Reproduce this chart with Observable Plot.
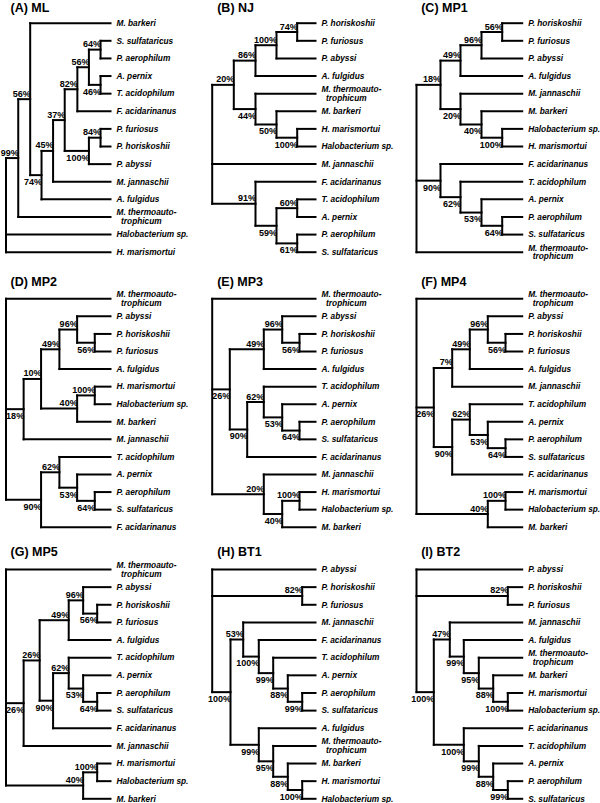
<!DOCTYPE html>
<html>
<head>
<meta charset="utf-8">
<script src="https://cdn.jsdelivr.net/npm/d3@7"></script>
<script src="https://cdn.jsdelivr.net/npm/@observablehq/plot@0.6"></script>
<style>
  html, body { margin: 0; padding: 0; background: #fff; }
  #wrap { position: relative; width: 600px; height: 803px; overflow: hidden; background: #fff; }
  #wrap svg { position: absolute; overflow: visible; }
</style>
</head>
<body>
<div id="wrap"></div>
<script>
// ---------------- DATA ----------------
// Panel titles (A..I), row-major order
const titles = ["(A) ML", "(B) NJ", "(C) MP1", "(D) MP2", "(E) MP3", "(F) MP4", "(G) MP5", "(H) BT1", "(I) BT2"];

// Trees: internal node = [depth, support label, label side ("a" above / "b" below), ...children]; leaf = taxon name
const MT = "M. thermoauto-\ntrophicum";

const treeA = [0, "", "",
  [12.3, "99%", "a",
    [24.3, "56%", "a",
      "M. barkeri",
      [35.7, "74%", "b",
        [47.3, "45%", "a",
          [59, "37%", "a",
            [71.7, "82%", "a",
              [83.3, "56%", "a",
                [95, "64%", "a", "S. sulfataricus", "P. aerophilum"],
                [95, "46%", "b", "A. pernix", "T. acidophilum"]],
              "F. acidarinanus"],
            [83.3, "100%", "b",
              [95, "84%", "a", "P. furiosus", "P. horiskoshii"],
              "P. abyssi"]],
          "M. jannaschii"],
        "A. fulgidus"]],
    MT],
  "Halobacterium sp.", "H. marismortui"];

const treeB = [0, "", "",
  [21.6, "20%", "a",
    [43.3, "86%", "a",
      [64.3, "100%", "a",
        [85, "74%", "a", "P. horiskoshii", "P. furiosus"],
        "P. abyssi"],
      "A. fulgidus"],
    [43.3, "44%", "b",
      MT,
      [64.3, "50%", "b",
        "M. barkeri",
        [85, "100%", "b", "H. marismortui", "Halobacterium sp."]]]],
  "M. jannaschii",
  [43.3, "91%", "a",
    "F. acidarinanus",
    [64.3, "59%", "b",
      [85, "60%", "a", "T. acidophilum", "A. pernix"],
      [85, "61%", "b", "P. aerophilum", "S. sulfataricus"]]]];

const treeC = [0, "", "",
  [24, "18%", "a",
    [44, "49%", "a",
      [65, "96%", "a",
        [85.7, "56%", "a", "P. horiskoshii", "P. furiosus"],
        "P. abyssi"],
      "A. fulgidus"],
    [44, "20%", "b",
      "M. jannaschii",
      [65, "40%", "b",
        "M. barkeri",
        [85.7, "100%", "b", "Halobacterium sp.", "H. marismortui"]]]],
  [24, "90%", "b",
    "F. acidarinanus",
    [44, "62%", "b",
      "T. acidophilum",
      [65, "53%", "b",
        "A. pernix",
        [85.7, "64%", "b", "P. aerophilum", "S. sulfataricus"]]]],
  MT];

const treeD = [0, "", "",
  MT,
  [17.6, "18%", "b",
    [35, "10%", "a",
      [53.3, "49%", "a",
        [71, "96%", "a",
          "P. abyssi",
          [88.6, "56%", "b", "P. horiskoshii", "P. furiosus"]],
        "A. fulgidus"],
      [71, "40%", "a",
        [88.6, "100%", "a", "H. marismortui", "Halobacterium sp."],
        "M. barkeri"]],
    "M. jannaschii"],
  [35, "90%", "b",
    [53.3, "62%", "a",
      "T. acidophilum",
      [71, "53%", "b",
        "A. pernix",
        [88.6, "64%", "b", "P. aerophilum", "S. sulfataricus"]]],
    "F. acidarinanus"]];

const treeE = [0, "", "",
  MT,
  [17.6, "26%", "b",
    [51.6, "49%", "a",
      [70, "96%", "a",
        "P. abyssi",
        [87.3, "56%", "b", "P. horiskoshii", "P. furiosus"]],
      "A. fulgidus"],
    [35, "90%", "b",
      [51.6, "62%", "a",
        "T. acidophilum",
        [70, "53%", "b",
          "A. pernix",
          [87.3, "64%", "b", "P. aerophilum", "S. sulfataricus"]]],
      "F. acidarinanus"]],
  [51.6, "20%", "a",
    "M. jannaschii",
    [70, "40%", "b",
      [87.3, "100%", "a", "H. marismortui", "Halobacterium sp."],
      "M. barkeri"]]];

const treeF = [0, "", "",
  MT,
  [17.3, "26%", "b",
    [35.7, "7%", "a",
      [53.3, "49%", "a",
        [71.3, "96%", "a",
          "P. abyssi",
          [89, "56%", "b", "P. horiskoshii", "P. furiosus"]],
        "A. fulgidus"],
      "M. jannaschii"],
    [35.7, "90%", "b",
      [53.3, "62%", "a",
        "T. acidophilum",
        [71.3, "53%", "b",
          "A. pernix",
          [89, "64%", "b", "P. aerophilum", "S. sulfataricus"]]],
      "F. acidarinanus"]],
  [71.3, "40%", "a",
    [89, "100%", "a", "H. marismortui", "Halobacterium sp."],
    "M. barkeri"]];

const treeG = [0, "", "",
  MT,
  [17.6, "26%", "b",
    [33.6, "26%", "a",
      [62.6, "49%", "a",
        [77, "96%", "a",
          "P. abyssi",
          [91, "56%", "b", "P. horiskoshii", "P. furiosus"]],
        "A. fulgidus"],
      [47, "90%", "b",
        [62.6, "62%", "a",
          "T. acidophilum",
          [77, "53%", "b",
            "A. pernix",
            [91, "64%", "b", "P. aerophilum", "S. sulfataricus"]]],
        "F. acidarinanus"]],
    "M. jannaschii"],
  [77, "40%", "a",
    [91, "100%", "a", "H. marismortui", "Halobacterium sp."],
    "M. barkeri"]];

const treeH = [0, "", "",
  "P. abyssi",
  [90, "82%", "a", "P. horiskoshii", "P. furiosus"],
  [18.3, "100%", "b",
    [31, "53%", "a",
      "M. jannaschii",
      [46.6, "100%", "b",
        "F. acidarinanus",
        [61, "99%", "b",
          "T. acidophilum",
          [75.6, "88%", "b",
            "A. pernix",
            [90, "99%", "b", "P. aerophilum", "S. sulfataricus"]]]]],
    [46.6, "99%", "b",
      "A. fulgidus",
      [61, "95%", "b",
        MT,
        [75.6, "88%", "b",
          "M. barkeri",
          [90, "100%", "b", "H. marismortui", "Halobacterium sp."]]]]]];

const treeI = [0, "", "",
  "P. abyssi",
  [91.3, "82%", "a", "P. horiskoshii", "P. furiosus"],
  [17.3, "100%", "b",
    [33.3, "47%", "a",
      "M. jannaschii",
      [47.3, "99%", "b",
        "A. fulgidus",
        [62.3, "95%", "b",
          MT,
          [76.7, "88%", "b",
            "M. barkeri",
            [91.3, "100%", "b", "H. marismortui", "Halobacterium sp."]]]]],
    [47.3, "100%", "b",
      "F. acidarinanus",
      [62.3, "99%", "b",
        "T. acidophilum",
        [76.7, "88%", "b",
          "A. pernix",
          [91.3, "99%", "b", "P. aerophilum", "S. sulfataricus"]]]]]];

const trees = [treeA, treeB, treeC, treeD, treeE, treeF, treeG, treeH, treeI];
// depth of the leaf tips for each tree
const tipDepths = [105, 103.3, 105.7, 104.3, 103.3, 105.7, 104.3, 103.3, 105.7];

// ---------------- LAYOUT (styles) ----------------
const colLeft = [0, 200, 400];
const colRootX = [5.5, 11.7, 16];
const colTipX = [110, 115, 121.7];
const colTitleX = [10, 16.7, 20.7];
const rowTop = [0, 265, 535];
const rowH = [265, 270, 268];
const rowY0 = [22.7, 33.3, 34];
const rowY13 = [251.7, 261.7, 263.3];
const rowTitleY = [11.5, 20.5, 20.5];

function layoutTree(tree, tip) {
  const segs = [], leaves = [], labels = [];
  let i = 0;
  function walk(node, parentX) {
    if (typeof node === "string") {
      const y = i++;
      segs.push({x1: parentX, x2: tip, y1: y, y2: y});
      leaves.push({x: tip, y, name: node});
      return y;
    }
    const [d, lab, pos, ...kids] = node;
    const ys = kids.map(k => walk(k, d));
    const y = (ys[0] + ys[ys.length - 1]) / 2;
    segs.push({x1: d, x2: d, y1: ys[0], y2: ys[ys.length - 1]});
    if (parentX != null) segs.push({x1: parentX, x2: d, y1: y, y2: y});
    if (lab) labels.push({x: d, y, text: lab, pos});
    return y;
  }
  walk(tree, null);
  return {segs, leaves, labels, n: i};
}

const wrap = document.getElementById("wrap");
const FONT = "'Liberation Sans', Arial, Helvetica, sans-serif";

trees.forEach((tree, k) => {
  const r = Math.floor(k / 3), c = k % 3;
  const tip = tipDepths[k];
  const {segs, leaves, labels, n} = layoutTree(tree, tip);
  const svg = Plot.plot({
    width: 200,
    height: rowH[r],
    margin: 0,
    style: {fontFamily: FONT, background: "transparent", overflow: "visible"},
    x: {domain: [0, tip], range: [colRootX[c], colTipX[c]], axis: null},
    y: {domain: [0, n - 1], range: [rowY0[r], rowY13[r]], axis: null},
    marks: [
      Plot.link(segs, {x1: "x1", y1: "y1", x2: "x2", y2: "y2", stroke: "black", strokeWidth: 2, strokeLinecap: "square"}),
      Plot.text(leaves, {x: "x", y: "y", text: d => d.name.replace("\n", "\n\u00a0\u00a0"),
        textAnchor: "start", dx: 6, lineAnchor: "middle", lineHeight: 1.05,
        fontSize: 8.3, fontStyle: "italic", fontWeight: "bold", fill: "black"}),
      Plot.text(labels.filter(d => d.pos === "a"), {x: "x", y: "y", text: "text",
        textAnchor: "end", dx: 0.5, dy: -2.5, lineAnchor: "bottom", fontSize: 9, fontWeight: "bold", fill: "black"}),
      Plot.text(labels.filter(d => d.pos === "b"), {x: "x", y: "y", text: "text",
        textAnchor: "end", dx: 0.5, dy: 3.5, lineAnchor: "top", fontSize: 9, fontWeight: "bold", fill: "black"}),
      Plot.text([titles[k]], {frameAnchor: "top-left", text: d => d, dx: colTitleX[c], dy: rowTitleY[r],
        textAnchor: "start", lineAnchor: "bottom", fontSize: 12.5, fontWeight: "bold", fill: "black"})
    ]
  });
  svg.style.left = colLeft[c] + "px";
  svg.style.top = rowTop[r] + "px";
  wrap.appendChild(svg);
});
</script>
</body>
</html>
